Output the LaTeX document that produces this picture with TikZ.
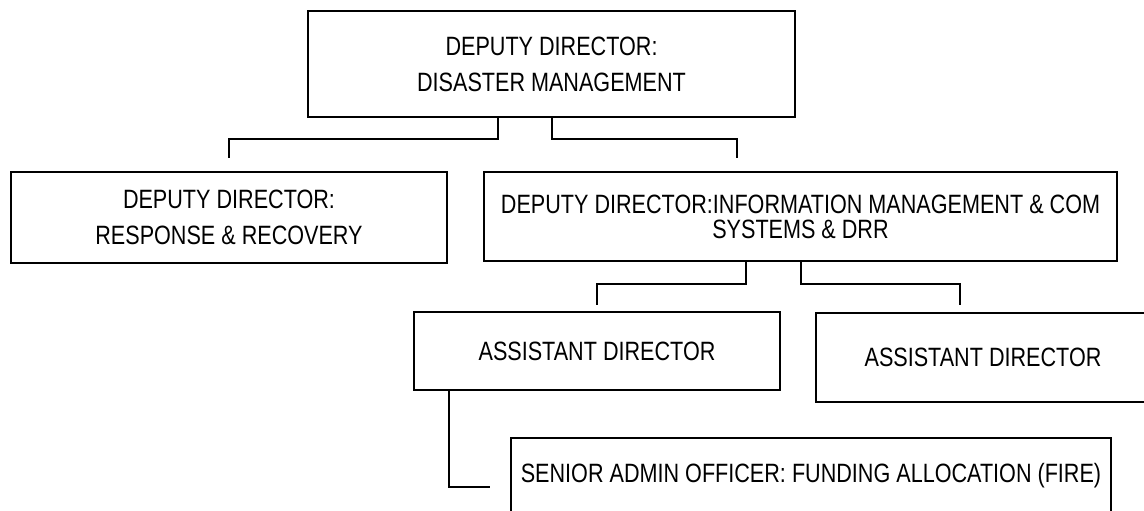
\documentclass[tikz,border=0pt]{standalone}
\usepackage{fontspec}
\setmainfont{Liberation Sans}[FakeStretch=0.815]
\usepackage{tikz}
\usetikzlibrary{positioning,calc}

\begin{document}
\begin{tikzpicture}[x=1pt,y=-1pt,line width=2pt,
    box/.style={draw,rectangle,inner sep=0pt,align=center,
      font=\fontsize{26.5}{36}\selectfont},
    tight/.style={font=\fontsize{26.5}{25}\selectfont}]
    \useasboundingbox (0,0) rectangle (1144,511);
    % boxes
    \node[box,minimum width=487pt,minimum height=106pt] (dm) at (551.5,64)
        {DEPUTY DIRECTOR:\\DISASTER MANAGEMENT};
    \node[box,minimum width=436pt,minimum height=91pt] (rr) at (229,217.5)
        {DEPUTY DIRECTOR:\\RESPONSE \& RECOVERY};
    \node[box,tight,minimum width=633pt,minimum height=89pt] (im) at (800.5,216.5)
        {DEPUTY DIRECTOR:INFORMATION MANAGEMENT \& COM\\SYSTEMS \& DRR};
    \node[box,minimum width=366pt,minimum height=78pt] (ad1) at (597,351)
        {ASSISTANT DIRECTOR};
    \node[box,minimum width=334pt,minimum height=89pt] (ad2) at (983,357.5)
        {ASSISTANT DIRECTOR};
    \node[box,minimum width=600pt,minimum height=75pt] (so) at (811,475.5)
        {SENIOR ADMIN OFFICER: FUNDING ALLOCATION (FIRE)};
    % free ends of the connectors
    \coordinate (rrtop) at (229,158);
    \coordinate (imtop) at (737,158);
    \coordinate (ad1top) at (597,305);
    \coordinate (ad2top) at (960,305);
    \coordinate (sotail) at (490,487);
    % connectors
    \draw ([xshift=-53.5pt]dm.south) -- ++(0,21) -| (rrtop);
    \draw (dm.south) -- ++(0,21) -| (imtop);
    \draw ([xshift=-54.5pt]im.south) -- ++(0,22) -| (ad1top);
    \draw (im.south) -- ++(0,22) -| (ad2top);
    \draw ([xshift=36pt]ad1.south west) |- (sotail);
\end{tikzpicture}
\end{document}
